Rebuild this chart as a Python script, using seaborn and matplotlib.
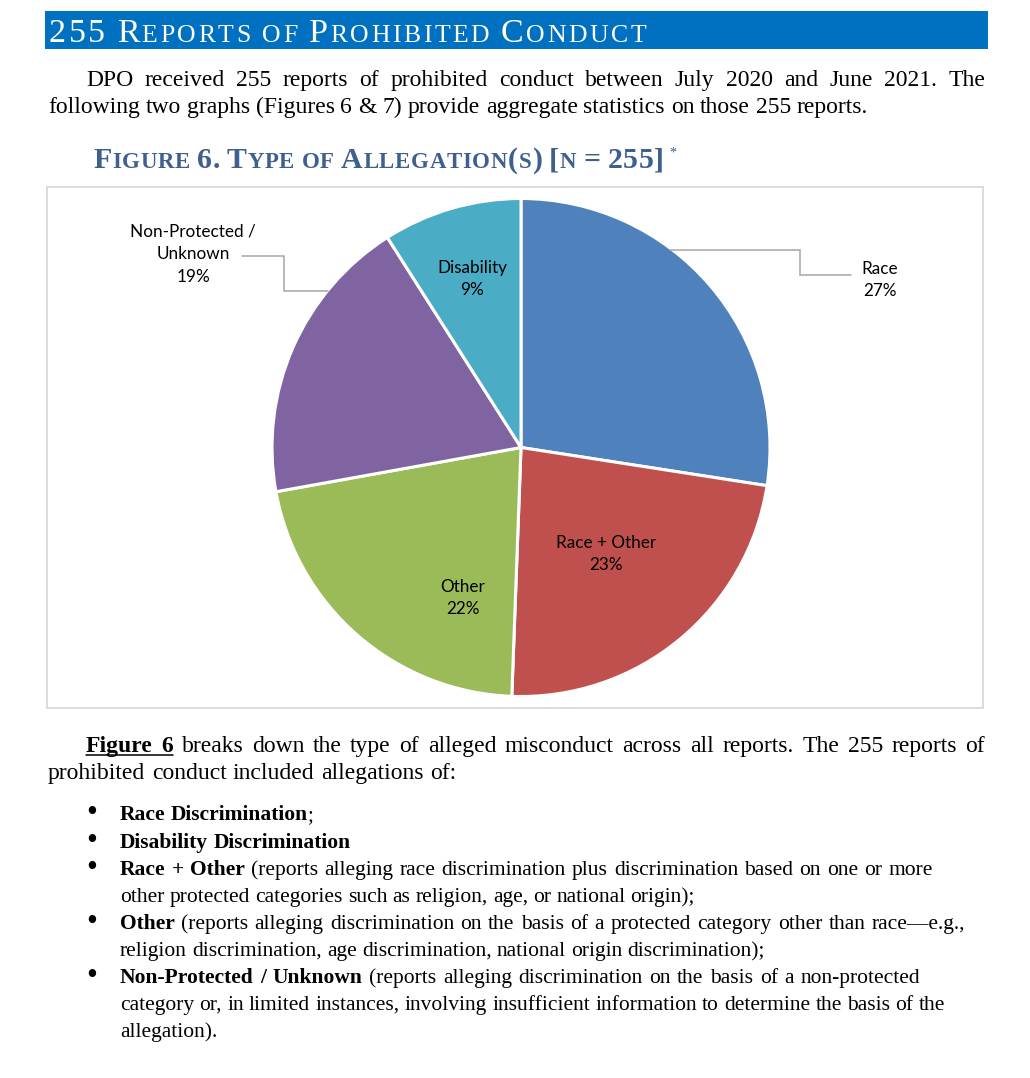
import statistics
import matplotlib
matplotlib.use("Agg")
import matplotlib.pyplot as plt
import seaborn as sns
from matplotlib.patches import Rectangle
from matplotlib.lines import Line2D

# ---------------- data ----------------
categories = ["Race", "Race + Other", "Other", "Non-Protected /\nUnknown", "Disability"]
counts = [70, 59, 55, 48, 23]
slice_colors = ["#4F81BD", "#C0504D", "#9BBB59", "#8064A2", "#4BACC6"]
total_reports = 255

header_title = "255 Reports of Prohibited Conduct"
figure_title = "Figure 6. Type of Allegation(s) [n = 255]"
intro_lines = [
    "DPO received 255 reports of prohibited conduct between July 2020 and June 2021. The",
    "following two graphs (Figures 6 & 7) provide aggregate statistics on those 255 reports.",
]
body_lines = [
    "*_Figure 6_* breaks down the type of alleged misconduct across all reports. The 255 reports of",
    "prohibited conduct included allegations of:",
]
bullet_items = [
    ["*Race Discrimination*;"],
    ["*Disability Discrimination*"],
    ["*Race + Other* (reports alleging race discrimination plus discrimination based on one or more",
     "other protected categories such as religion, age, or national origin);"],
    ["*Other* (reports alleging discrimination on the basis of a protected category other than race\u2014e.g.,",
     "religion discrimination, age discrimination, national origin discrimination);"],
    ["*Non-Protected / Unknown* (reports alleging discrimination on the basis of a non-protected",
     "category or, in limited instances, involving insufficient information to determine the basis of the",
     "allegation)."],
]

# ---------------- layout (pixels) ----------------
W, H = 1030, 1078
intro_layout = [(86, 985, 86), (48, 868, 113)]
body_layout = [(86, 985, 752), (48, 456, 779)]
bullet_x = 92
bullet_text_x = 120
bullet_ends = [None, None, 933, 695, 965, 765, 920, 945, None]
bullet_baselines = [820, 848, 875, 902, 929, 956, 983, 1010, 1037]
pie_cx, pie_cy, pie_r = 521, 447.5, 249
label_pos = {
    "Race": (880, 280),
    "Race + Other": (606, 554),
    "Other": (463, 598),
    "Non-Protected /\nUnknown": (193, 254),
    "Disability": (472, 279),
}
leaders = {
    "Race": [(670, 250), (800, 250), (800, 275), (851, 275)],
    "Non-Protected /\nUnknown": [(242, 256), (284, 256), (284, 291), (328, 291)],
}

sns.set_theme(style="white")
SERIF = ["Liberation Serif", "DejaVu Serif"]
SANS = ["Lato", "DejaVu Sans"]
plt.rcParams["font.family"] = SERIF

fig = plt.figure(figsize=(W / 100, H / 100), dpi=100)
fig.patch.set_facecolor("white")
renderer = fig.canvas.get_renderer()


def fx(x):
    return x / W


def fy(y):
    return 1 - y / H


def measure(s, size, weight="normal", family=SERIF):
    t = fig.text(0, 0, s, fontsize=size, fontweight=weight, family=family)
    w = t.get_window_extent(renderer).width
    t.remove()
    return w


def advance(ch, size, weight="normal", family=SERIF):
    return measure("n" + ch + "n", size, weight, family) - measure("nn", size, weight, family)


def space_w(size, weight="normal", family=SERIF):
    return measure("n n", size, weight, family) - measure("nn", size, weight, family)


def parse_words(markup):
    words, cur, run = [], [], ""
    bold = ul = False
    for ch in markup:
        if ch in "*_ ":
            if run:
                cur.append((run, bold, ul))
                run = ""
            if ch == "*":
                bold = not bold
            elif ch == "_":
                ul = not ul
            else:
                if cur:
                    words.append(cur)
                cur = []
        else:
            run += ch
    if run:
        cur.append((run, bold, ul))
    if cur:
        words.append(cur)
    return words


def natural_width(markup, size):
    words = parse_words(markup)
    tot = sum(measure(t, size, "bold" if b else "normal") for w in words for t, b, u in w)
    return tot + space_w(size) * (len(words) - 1)


def set_line(markup, x0, x1, y, size, color="black"):
    words = parse_words(markup)
    n = len(words)
    min_gap_ratio = 0.6
    for _ in range(6):
        widths = [[measure(t, size, "bold" if b else "normal") for t, b, u in w] for w in words]
        total = sum(sum(r) for r in widths)
        nat = space_w(size)
        if x1 is None or n == 1 or total + min_gap_ratio * nat * (n - 1) <= (x1 - x0) + 3:
            break
        size *= (x1 - x0) / (total + min_gap_ratio * nat * (n - 1))
    gap = nat
    if n > 1 and x1 is not None:
        gap = (x1 - x0 - total) / (n - 1)
        gap = min(max(gap, min_gap_ratio * nat), 2.4 * nat)
    x = x0
    us = ue = None
    for w, ws in zip(words, widths):
        for (t, b, u), tw in zip(w, ws):
            fig.text(fx(x), fy(y), t, fontsize=size, fontweight="bold" if b else "normal",
                     family=SERIF, color=color, ha="left", va="baseline")
            if u:
                us = x if us is None else us
                ue = x + tw
            x += tw
        x += gap
    if us is not None:
        fig.add_artist(Line2D([fx(us), fx(ue)], [fy(y + 2.5)] * 2,
                              transform=fig.transFigure, color=color, lw=1.1))


def small_caps(text, x0, x1, y, big, small, color, weight):
    items = []
    for ch in text:
        if ch == " ":
            items.append((None, small))
        elif ch.islower():
            items.append((ch.upper(), small))
        else:
            items.append((ch, big))
    widths = [space_w(sz, weight) if ch is None else advance(ch, sz, weight) for ch, sz in items]
    track = (x1 - x0 - sum(widths)) / (len(items) - 1)
    x = x0
    for (ch, sz), w in zip(items, widths):
        if ch is not None:
            fig.text(fx(x), fy(y), ch, fontsize=sz, fontweight=weight, family=SERIF,
                     color=color, ha="left", va="baseline")
        x += w + track


# ---------------- font size calibration (match reference line lengths) ----------------
S0 = 15.0
para_ratios = [(intro_layout[1][1] - intro_layout[1][0]) / natural_width(intro_lines[1], S0),
               (body_layout[1][1] - body_layout[1][0]) / natural_width(body_lines[1], S0)]
PARA = min(max(S0 * statistics.mean(para_ratios), 14.0), 17.5)
flat_bullets = [ln for item in bullet_items for ln in item]
bul_ratios = [(bullet_ends[i] - bullet_text_x) / natural_width(flat_bullets[i], S0)
              for i in (2, 3, 4, 5, 6, 7)]
BUL = min(max(S0 * statistics.median(bul_ratios), 14.0), 17.5)

# ---------------- header bar ----------------
fig.add_artist(Rectangle((fx(45), fy(49)), (988 - 45) / W, (49 - 11) / H,
                         transform=fig.transFigure, facecolor="#0070C0",
                         edgecolor="none", zorder=-1))
small_caps(header_title, 49, 646, 42, 24.5, 18.5, "white", "normal")

for s, (x0, x1, y) in zip(intro_lines, intro_layout):
    set_line(s, x0, x1, y, PARA)

# ---------------- figure title ----------------
title_color = "#3F5F8E"
small_caps(figure_title, 93, 664, 168, 21.5, 16.5, title_color, "bold")
fig.text(fx(669), fy(157), "*", fontsize=10, color=title_color, family=SERIF,
         ha="left", va="baseline")

# ---------------- chart frame ----------------
fig.add_artist(Rectangle((fx(47), fy(708)), (983 - 47) / W, (708 - 187) / H,
                         transform=fig.transFigure, facecolor="none",
                         edgecolor="#D9D9D9", lw=1.3, zorder=-1))

# ---------------- pie ----------------
ax = fig.add_axes([fx(pie_cx - pie_r), fy(pie_cy + pie_r), 2 * pie_r / W, 2 * pie_r / H])
ax.pie(counts, colors=slice_colors, startangle=90, counterclock=False,
       wedgeprops=dict(edgecolor="white", linewidth=2.2))
ax.set_xlim(-1, 1)
ax.set_ylim(-1, 1)
ax.set_aspect("equal")
ax.axis("off")


def to_pie(px, py):
    return (px - pie_cx) / pie_r, (pie_cy - py) / pie_r


for cat, c in zip(categories, counts):
    pct = f"{round(100 * c / total_reports)}%"
    lx, ly = to_pie(*label_pos[cat])
    ax.text(lx, ly, f"{cat}\n{pct}", ha="center", va="center", fontsize=12.3,
            family=SANS, color="black", linespacing=1.5, clip_on=False)
    if cat in leaders:
        pts = [to_pie(*p) for p in leaders[cat]]
        ax.plot([p[0] for p in pts], [p[1] for p in pts], color="#A6A6A6",
                lw=1.1, clip_on=False, solid_joinstyle="miter")

# ---------------- body text ----------------
for s, (x0, x1, y) in zip(body_lines, body_layout):
    set_line(s, x0, x1, y, PARA)

k = 0
for item in bullet_items:
    fig.text(fx(bullet_x), fy(bullet_baselines[k] + 1), "\u2022", fontsize=BUL * 1.45,
             family=SERIF, ha="center", va="baseline", color="black")
    for ln in item:
        set_line(ln, bullet_text_x, bullet_ends[k], bullet_baselines[k], BUL)
        k += 1

fig.savefig("out.png", dpi=100, facecolor="white")
